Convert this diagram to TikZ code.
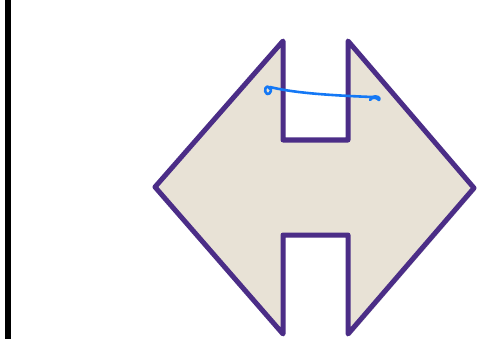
\documentclass[tikz,border=0pt]{standalone}
\usetikzlibrary{shadows}

\definecolor{plum}{RGB}{75,45,135}
\definecolor{sand}{RGB}{232,226,214}
\definecolor{ink}{RGB}{20,120,245}

\begin{document}
\begin{tikzpicture}[
    x=1pt, y=-1pt,
    wall/.style={line width=6pt},
    outline/.style={draw=plum, fill=sand, line width=5pt, line join=round,
        drop shadow={shadow xshift=2pt, shadow yshift=-2pt, opacity=0.25}},
    scribble/.style={draw=ink, line width=2.6pt, line cap=round, line join=round}
]
\useasboundingbox (0,0) rectangle (478,339);

% left edge bar
\draw[wall] (8,0) -- (8,339);

% corner points of the shape
\coordinate (tl) at (283,41);
\coordinate (nl) at (283,140);
\coordinate (nr) at (348,140);
\coordinate (tr) at (348,41);
\coordinate (east) at (474,188);
\coordinate (br) at (348,334);
\coordinate (sr) at (348,235);
\coordinate (sl) at (283,235);
\coordinate (bl) at (283,334);
\coordinate (west) at (155,187);

\path[outline] (tl) -- (nl) -- (nr) -- (tr) -- (east) -- (br) -- (sr)
    -- (sl) -- (bl) -- (west) -- cycle;

% hand drawn stroke
\draw[scribble] (270,89) .. controls (266,82) and (263,92) .. (267,94)
    .. controls (271,95) and (272,88) .. (270,87)
    .. controls (290,92) and (320,95) .. (372,97)
    .. controls (377,95) and (381,98) .. (379,100)
    .. controls (376,97) and (372,97) .. (370,100);
\end{tikzpicture}
\end{document}
